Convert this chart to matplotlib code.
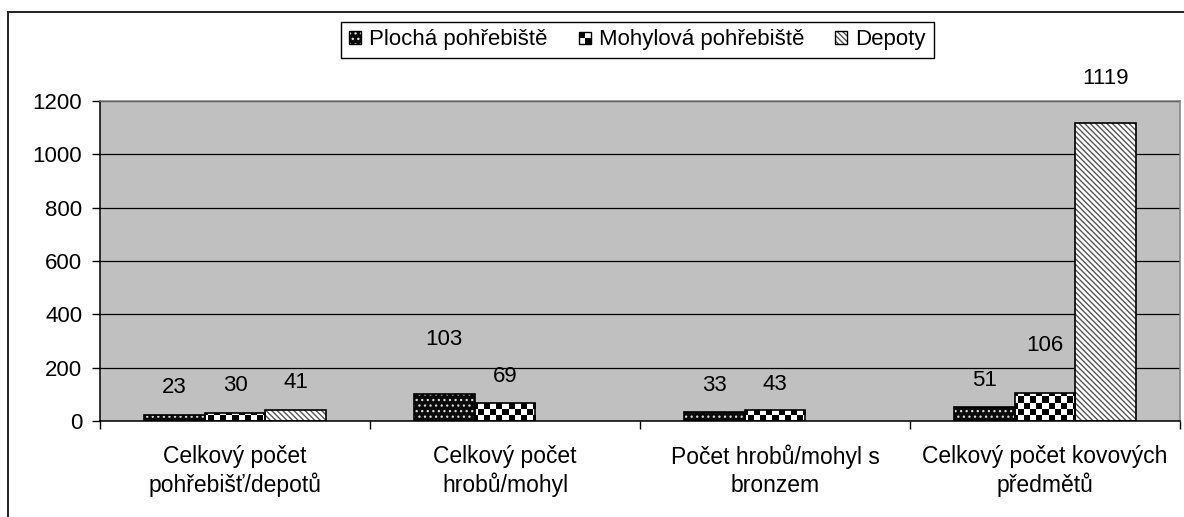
import numpy as np
import matplotlib
matplotlib.use("Agg")
import matplotlib.pyplot as plt
from matplotlib.patches import Patch, Rectangle
from matplotlib.legend_handler import HandlerBase, HandlerTuple

plt.rcParams['font.family'] = ['Liberation Sans', 'DejaVu Sans']

categories = ["Celkový počet\npohřebišť/depotů", "Celkový počet\nhrobů/mohyl",
              "Počet hrobů/mohyl s\nbronzem", "Celkový počet kovových\npředmětů"]
series_names = ["Plochá pohřebiště", "Mohylová pohřebiště", "Depoty"]
plocha = [23, 103, 33, 51]
mohylova = [30, 69, 43, 106]
depoty = [41, None, None, 1119]

# label offsets above the bar top (points), Excel put them unevenly
off_plocha = [20, 39, 19.5, 19.5]
off_mohylova = [20, 18.5, 18, 34]
off_depoty = [20, 0, 0, 32]

FS = 16

W, H = 1184, 517
fig = plt.figure(figsize=(W / 100, H / 100), dpi=100)
ax = fig.add_axes([100 / W, 1 - 421 / H, 1080 / W, 320 / H])
ax.set_facecolor('#c0c0c0')

x = np.arange(len(categories))
bw = 0.225

def nums(vals):
    return [np.nan if v is None else v for v in vals]

DOTS = '...'
STRIPES = '\\' * 6

# Plochá: black with small white dots
with plt.rc_context({'hatch.linewidth': 0.9}):
    p1 = ax.bar(x - bw, nums(plocha), bw, color='#0a0a0a', edgecolor='#d8d8d8',
                hatch=DOTS, linewidth=0, zorder=2)
    h1a = Patch(facecolor='#0a0a0a', edgecolor='#d8d8d8', hatch=DOTS, linewidth=0)
ax.bar(x - bw, nums(plocha), bw, facecolor='none', edgecolor='black',
       linewidth=1.2, zorder=4)

# Mohylová: checkerboard, done with an image clipped to each bar
p2 = ax.bar(x, nums(mohylova), bw, color='white', linewidth=0, zorder=2)
ax.bar(x, nums(mohylova), bw, facecolor='none', edgecolor='black',
       linewidth=1.2, zorder=4)

# Depoty: fine diagonal stripes
with plt.rc_context({'hatch.linewidth': 1.0}):
    p3 = ax.bar(x + bw, nums(depoty), bw, color='white', edgecolor='#555555',
                hatch=STRIPES, linewidth=0, zorder=2)
    h3a = Patch(facecolor='white', edgecolor='#555555', hatch=STRIPES, linewidth=0)
ax.bar(x + bw, nums(depoty), bw, facecolor='none', edgecolor='black',
       linewidth=1.2, zorder=4)

sq = 6.0  # pixel size of checker squares
ncol = int(1080 / sq) + 1
nrow = int(320 / sq) + 1
checker = (np.indices((nrow, ncol)).sum(axis=0) % 2).astype(float)
for rect in p2.patches:
    im = ax.imshow(checker, cmap='gray', extent=(-0.5, -0.5 + ncol * sq / 270,
                   0, nrow * sq * 1200 / 320), origin='lower', aspect='auto',
                   interpolation='nearest', zorder=3)
    im.set_clip_path(rect)
ax.set_xlim(-0.5, len(categories) - 0.5)
ax.set_ylim(0, 1200)

for bars, vals, offs in [(p1, plocha, off_plocha), (p2, mohylova, off_mohylova),
                         (p3, depoty, off_depoty)]:
    for rect, v, o in zip(bars.patches, vals, offs):
        if v is None:
            continue
        ax.annotate(str(v), (rect.get_x() + rect.get_width() / 2, v),
                    xytext=(0, o), textcoords='offset points',
                    ha='center', va='center', fontsize=FS, zorder=5)

ax.set_yticks(np.arange(0, 1201, 200))
ax.yaxis.grid(True, color='black', linewidth=0.9)
ax.set_axisbelow(True)
ax.tick_params(axis='y', labelsize=FS, length=5.8, width=1, color='black', pad=7)

ax.set_xticks(x)
ax.set_xticklabels(categories, fontsize=16.5, linespacing=1.25)
ax.set_xticks(np.arange(-0.5, len(categories)), minor=True)
ax.tick_params(axis='x', which='major', length=0, pad=17)
ax.tick_params(axis='x', which='minor', length=5.5, width=1, color='black')

ax.spines['left'].set_color('black')
ax.spines['bottom'].set_color('black')
ax.spines['top'].set_color('#808080')
ax.spines['right'].set_color('#808080')
for s in ax.spines.values():
    s.set_linewidth(1.1)
    s.set_zorder(6)


class CheckerHandler(HandlerBase):
    def create_artists(self, legend, orig_handle, xdescent, ydescent,
                       width, height, fontsize, trans):
        s = min(width, height)
        x0 = -xdescent + (width - s) / 2
        y0 = -ydescent + (height - s) / 2
        arts = []
        for i in range(2):
            for j in range(2):
                c = 'white' if (i + j) % 2 == 0 else 'black'
                arts.append(Rectangle((x0 + i * s / 2, y0 + j * s / 2), s / 2, s / 2,
                                      facecolor=c, edgecolor='none', transform=trans))
        arts.append(Rectangle((x0, y0), s, s, facecolor='none', edgecolor='black',
                              linewidth=1, transform=trans))
        return arts


h1 = (h1a, Patch(facecolor='none', edgecolor='black', linewidth=1))
h2 = Patch(facecolor='white')
h3 = (h3a, Patch(facecolor='none', edgecolor='black', linewidth=1))
leg = fig.legend([h1, h2, h3], series_names, loc='center',
                 bbox_to_anchor=(637.5 / W, 1 - 40 / H), ncol=3, fontsize=FS,
                 frameon=True, fancybox=False, edgecolor='black', framealpha=1,
                 handlelength=0.55, handleheight=0.55, handletextpad=0.35,
                 columnspacing=1.4, borderpad=0.35, borderaxespad=0,
                 handler_map={h2: CheckerHandler(), tuple: HandlerTuple(ndivide=1)})
leg.get_frame().set_linewidth(1.0)

# outer chart border, runs past the right and bottom of the picture
fig.patches.append(Rectangle((8 / W, -0.5), 2, 1 - 12 / H + 0.5, fill=False,
                             edgecolor='#222222', linewidth=1.4,
                             transform=fig.transFigure, figure=fig))

fig.savefig("out.png", dpi=100)
